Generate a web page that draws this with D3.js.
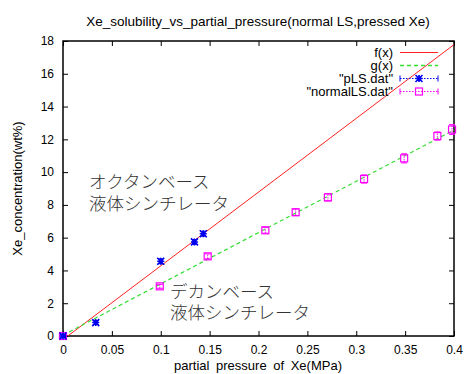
<!DOCTYPE html>
<html>
<head>
<meta charset="utf-8">
<script src="https://cdn.jsdelivr.net/npm/d3@7"></script>
<style>
  body { margin: 0; background: #fff; }
  text { font-family: "Liberation Sans", Arial, sans-serif; }
</style>
</head>
<body>
<div id="chart"></div>
<script>
// data
const pLSx = [0, 0.0335, 0.1, 0.1345, 0.1435];
const pLSy = [0, 0.82, 4.56, 5.74, 6.24];
const pLSerr = [0.1, 0.12, 0.15, 0.15, 0.15];

const normalX = [0, 0.099, 0.148, 0.207, 0.238, 0.271, 0.308, 0.349, 0.383, 0.398];
const normalY = [0, 3.03, 4.86, 6.45, 7.55, 8.46, 9.58, 10.84, 12.2, 12.6];
const normalErr = [0.1, 0.12, 0.15, 0.18, 0.2, 0.22, 0.25, 0.28, 0.25, 0.3];

// fitted lines f(x), g(x)
const fSlope = 45.0, fIcpt = -0.22;
const gSlope = 31.3, gIcpt = 0.05;

const xTicks = [0, 0.05, 0.1, 0.15, 0.2, 0.25, 0.3, 0.35, 0.4];
const yTicks = [0, 2, 4, 6, 8, 10, 12, 14, 16, 18];

const legendLabels = ["f(x)", "g(x)", "\"pLS.dat\"", "\"normalLS.dat\""];

const width = 465;
const height = 374;
const margin = { top: 41, right: 11, bottom: 38, left: 63 };

const svg = d3.select("#chart")
  .append("svg")
  .attr("width", width)
  .attr("height", height);

const x = d3.scaleLinear().domain([0, 0.4]).range([margin.left, width - margin.right]);
const y = d3.scaleLinear().domain([0, 18]).range([height - margin.bottom, margin.top]);

svg.append("defs").append("clipPath")
  .attr("id", "plotclip")
  .append("rect")
  .attr("x", x(0)).attr("y", y(18))
  .attr("width", x(0.4) - x(0)).attr("height", y(0) - y(18));

// title
svg.append("text")
  .attr("x", 258).attr("y", 26)
  .attr("text-anchor", "middle")
  .attr("font-size", 13.5)
  .text("Xe_solubility_vs_partial_pressure(normal LS,pressed Xe)");

// axes with inward ticks, mirrored
const tl = 5;
const xAxisB = d3.axisBottom(x).tickValues(xTicks).tickSizeInner(-tl).tickSizeOuter(0).tickPadding(9)
  .tickFormat(d => d3.format("")(+d.toFixed(2)));
const yAxisL = d3.axisLeft(y).tickValues(yTicks).tickSizeInner(-tl).tickSizeOuter(0).tickPadding(9);
const xAxisT = d3.axisTop(x).tickValues(xTicks).tickSizeInner(-tl).tickSizeOuter(0).tickFormat("");
const yAxisR = d3.axisRight(y).tickValues(yTicks).tickSizeInner(-tl).tickSizeOuter(0).tickFormat("");

svg.append("g").attr("transform", `translate(0,${y(0)})`).call(xAxisB);
svg.append("g").attr("transform", `translate(${x(0)},0)`).call(yAxisL);
svg.append("g").attr("transform", `translate(0,${y(18)})`).call(xAxisT);
svg.append("g").attr("transform", `translate(${x(0.4)},0)`).call(yAxisR);

svg.selectAll(".domain").remove();
svg.selectAll(".tick line").attr("stroke", "#000").attr("stroke-width", 1);
svg.selectAll(".tick text")
  .attr("font-family", "Liberation Sans, Arial, sans-serif")
  .attr("font-size", 12)
  .attr("fill", "#000");

svg.append("rect")
  .attr("x", x(0)).attr("y", y(18))
  .attr("width", x(0.4) - x(0)).attr("height", y(0) - y(18))
  .attr("fill", "none")
  .attr("stroke", "#000")
  .attr("stroke-width", 1.5);

// axis labels
svg.append("text")
  .attr("x", 258).attr("y", 370)
  .attr("text-anchor", "middle")
  .attr("font-size", 13)
  .style("word-spacing", "3px")
  .text("partial pressure of Xe(MPa)");

svg.append("text")
  .attr("transform", "rotate(-90)")
  .attr("x", -(margin.top + y(0)) / 2)
  .attr("y", 22)
  .attr("text-anchor", "middle")
  .attr("font-size", 13)
  .text("Xe_concentration(wt%)");

// fit lines
const plot = svg.append("g").attr("clip-path", "url(#plotclip)");
const line = d3.line().x(d => x(d[0])).y(d => y(d[1]));

plot.append("path")
  .datum([[0, fIcpt], [0.4, fSlope * 0.4 + fIcpt]])
  .attr("d", line)
  .attr("fill", "none")
  .attr("stroke", "#ff2020")
  .attr("stroke-width", 1);

plot.append("path")
  .datum([[0, gIcpt], [0.4, gSlope * 0.4 + gIcpt]])
  .attr("d", line)
  .attr("fill", "none")
  .attr("stroke", "#33dd33")
  .attr("stroke-width", 1.2)
  .attr("stroke-dasharray", "4,3");

// error bar markers
function errorBars(g, xs, ys, es, color) {
  xs.forEach((xv, i) => {
    const px = x(xv), y1 = y(ys[i] - es[i]), y2 = y(ys[i] + es[i]);
    g.append("line").attr("x1", px).attr("x2", px).attr("y1", y1).attr("y2", y2)
      .attr("stroke", color).attr("stroke-width", 1).attr("stroke-dasharray", "1.5,1");
    [y1, y2].forEach(yy => g.append("line")
      .attr("x1", px - 3).attr("x2", px + 3).attr("y1", yy).attr("y2", yy)
      .attr("stroke", color).attr("stroke-width", 1));
  });
}

function star(g, px, py, color) {
  const s = 3.5;
  g.append("path")
    .attr("d", `M${px - s},${py}H${px + s}M${px},${py - s}V${py + s}M${px - s},${py - s}L${px + s},${py + s}M${px - s},${py + s}L${px + s},${py - s}`)
    .attr("stroke", color).attr("stroke-width", 1.6).attr("fill", "none");
}

function square(g, px, py, color) {
  g.append("rect")
    .attr("x", px - 3.5).attr("y", py - 3.5).attr("width", 7).attr("height", 7)
    .attr("fill", "none").attr("stroke", color).attr("stroke-width", 1.2);
}

const pts = svg.append("g");
errorBars(pts, normalX, normalY, normalErr, "#ff00ff");
normalX.forEach((xv, i) => square(pts, x(xv), y(normalY[i]), "#ff00ff"));
errorBars(pts, pLSx, pLSy, pLSerr, "#0000ee");
pLSx.forEach((xv, i) => star(pts, x(xv), y(pLSy[i]), "#0000ee"));

// legend
const legY = [52.5, 65.5, 78.5, 91.5];
const lx1 = 400, lx2 = 438, ltx = 393;
const leg = svg.append("g");
legendLabels.forEach((t, i) => {
  leg.append("text")
    .attr("x", ltx).attr("y", legY[i])
    .attr("dy", "0.35em")
    .attr("text-anchor", "end")
    .attr("font-size", 13)
    .text(t);
});
leg.append("line").attr("x1", lx1).attr("x2", lx2).attr("y1", legY[0]).attr("y2", legY[0])
  .attr("stroke", "#ff2020").attr("stroke-width", 1);
leg.append("line").attr("x1", lx1).attr("x2", lx2).attr("y1", legY[1]).attr("y2", legY[1])
  .attr("stroke", "#33dd33").attr("stroke-width", 1.4).attr("stroke-dasharray", "4,3");
[[2, "#0000ee"], [3, "#ff00ff"]].forEach(([i, c]) => {
  leg.append("line").attr("x1", lx1).attr("x2", lx2).attr("y1", legY[i]).attr("y2", legY[i])
    .attr("stroke", c).attr("stroke-width", 1).attr("stroke-dasharray", "1.5,1.5");
  [lx1, lx2].forEach(xx => leg.append("line")
    .attr("x1", xx).attr("x2", xx).attr("y1", legY[i] - 3).attr("y2", legY[i] + 3)
    .attr("stroke", c).attr("stroke-width", 1));
});
star(leg, (lx1 + lx2) / 2, legY[2], "#0000ee");
square(leg, (lx1 + lx2) / 2, legY[3], "#ff00ff");

// Japanese annotations
const notes = [
  { x: 89, y: 182, t: "オクタンベース" },
  { x: 89, y: 204, t: "液体シンチレータ" },
  { x: 170, y: 292, t: "デカンベース" },
  { x: 170, y: 313, t: "液体シンチレータ" }
];
svg.selectAll(".note")
  .data(notes)
  .enter()
  .append("text")
  .attr("class", "note")
  .attr("x", d => d.x).attr("y", d => d.y)
  .attr("dy", "0.35em")
  .style("font-family", "'Noto Sans CJK JP', sans-serif")
  .attr("font-size", 17.5)
  .attr("font-weight", 300)
  .attr("fill", "#333")
  .text(d => d.t);
</script>
</body>
</html>
